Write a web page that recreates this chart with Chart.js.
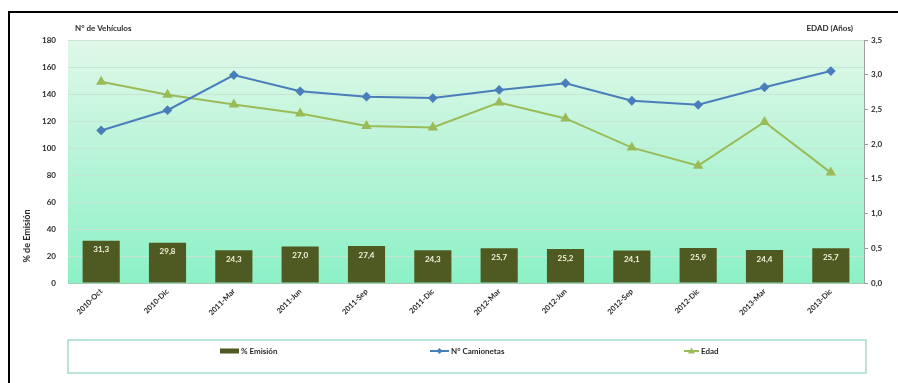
<!DOCTYPE html>
<html>
<head>
<meta charset="utf-8">
<script src="https://cdn.jsdelivr.net/npm/chart.js@4.4.1/dist/chart.umd.min.js"></script>
<style>
  html, body { margin: 0; padding: 0; background: #ffffff; overflow: hidden; }
  #wrap { position: relative; width: 898px; height: 383px; }
  #frame { position: absolute; left: 8px; top: 11px; width: 1000px; height: 600px; border-left: 2px solid #000; border-top: 2px solid #000; }
  canvas { position: absolute; left: 0; top: 0; }
</style>
</head>
<body>
<div id="wrap">
  <div id="frame"></div>
  <canvas id="c" width="898" height="383"></canvas>
</div>
<script>
const categories = ['2010-Oct','2010-Dic','2011-Mar','2011-Jun','2011-Sep','2011-Dic','2012-Mar','2012-Jun','2012-Sep','2012-Dic','2013-Mar','2013-Dic'];
const emision = [31.3, 29.8, 24.3, 27.0, 27.4, 24.3, 25.7, 25.2, 24.1, 25.9, 24.4, 25.7];
const camionetas = [113, 128, 154, 142, 138, 137, 143, 148, 135, 132, 145, 157];
const edad = [2.90, 2.71, 2.57, 2.44, 2.26, 2.24, 2.60, 2.37, 1.95, 1.69, 2.32, 1.59];
const seriesNames = ['% Emisión', 'N° Camionetas', 'Edad'];
const leftTitle = 'N° de Vehículos';
const rightTitle = 'EDAD (Años)';
const leftAxisLabel = '% de Emisión';

const FONT = 'Lato, "Open Sans", sans-serif';
const C_BAR = '#4f5a22';
const C_BLUE = '#4a7ebb';
const C_GREEN = '#9bbb59';
const C_TEXT = '#2a2a2a';
const fmt1 = v => v.toFixed(1).replace('.', ',');

const decor = {
  id: 'decor',
  beforeDraw(chart) {
    const {ctx, chartArea: a} = chart;
    const g = ctx.createLinearGradient(0, a.top, 0, a.bottom);
    g.addColorStop(0, '#e0f8e8');
    g.addColorStop(1, '#8cf1c6');
    ctx.save();
    ctx.fillStyle = g;
    ctx.fillRect(a.left, a.top, a.right - a.left, a.bottom - a.top);
    ctx.restore();
  },
  afterDatasetsDraw(chart) {
    const ctx = chart.ctx;
    const meta = chart.getDatasetMeta(0);
    ctx.save();
    ctx.font = 'bold 8px ' + FONT;
    ctx.fillStyle = '#f4f4dc';
    ctx.textAlign = 'center';
    ctx.textBaseline = 'middle';
    meta.data.forEach((bar, i) => {
      ctx.fillText(fmt1(emision[i]), bar.x, bar.y + 9);
    });
    ctx.restore();
  },
  afterDraw(chart) {
    const ctx = chart.ctx;
    ctx.save();
    ctx.fillStyle = C_TEXT;
    ctx.font = 'bold 8px ' + FONT;
    ctx.textBaseline = 'middle';
    ctx.textAlign = 'left';
    ctx.fillText(leftTitle, 75, 28);
    ctx.textAlign = 'right';
    ctx.fillText(rightTitle, 853, 28);
    ctx.save();
    ctx.translate(27, 236);
    ctx.rotate(-Math.PI / 2);
    ctx.textAlign = 'center';
    ctx.font = 'bold 9px ' + FONT;
    ctx.fillText(leftAxisLabel, 0, 0);
    ctx.restore();

    // legend
    ctx.strokeStyle = '#a6dcc4';
    ctx.lineWidth = 1.5;
    ctx.fillStyle = '#ffffff';
    ctx.fillRect(68, 340, 798, 33);
    ctx.strokeRect(68, 340, 798, 33);
    const ly = 351;
    ctx.fillStyle = C_BAR;
    ctx.fillRect(220, ly - 2.5, 19, 5);
    ctx.fillStyle = C_TEXT;
    ctx.textAlign = 'left';
    ctx.fillText(seriesNames[0], 241, ly);

    ctx.strokeStyle = C_BLUE;
    ctx.lineWidth = 2;
    ctx.beginPath(); ctx.moveTo(430, ly); ctx.lineTo(449, ly); ctx.stroke();
    ctx.fillStyle = C_BLUE;
    ctx.beginPath(); ctx.moveTo(439.5, ly - 3); ctx.lineTo(442.5, ly); ctx.lineTo(439.5, ly + 3); ctx.lineTo(436.5, ly); ctx.closePath(); ctx.fill();
    ctx.fillStyle = C_TEXT;
    ctx.fillText(seriesNames[1], 451, ly);

    ctx.strokeStyle = C_GREEN;
    ctx.beginPath(); ctx.moveTo(684, ly); ctx.lineTo(699, ly); ctx.stroke();
    ctx.fillStyle = C_GREEN;
    ctx.beginPath(); ctx.moveTo(691.5, ly - 3.5); ctx.lineTo(695, ly + 2.5); ctx.lineTo(688, ly + 2.5); ctx.closePath(); ctx.fill();
    ctx.fillStyle = C_TEXT;
    ctx.fillText(seriesNames[2], 701, ly);
    ctx.restore();
  }
};

new Chart(document.getElementById('c'), {
  data: {
    labels: categories,
    datasets: [
      { type: 'bar', label: seriesNames[0], data: emision, backgroundColor: C_BAR, yAxisID: 'y', order: 3,
        categoryPercentage: 1, barPercentage: 0.56 },
      { type: 'line', label: seriesNames[1], data: camionetas, borderColor: C_BLUE, backgroundColor: C_BLUE, borderWidth: 2,
        pointStyle: 'rectRot', pointRadius: 3.5, yAxisID: 'y', order: 1, tension: 0 },
      { type: 'line', label: seriesNames[2], data: edad, borderColor: C_GREEN, backgroundColor: C_GREEN, borderWidth: 2,
        pointStyle: 'triangle', pointRadius: 4, yAxisID: 'y1', order: 2, tension: 0 }
    ]
  },
  options: {
    responsive: false,
    animation: false,
    devicePixelRatio: 1,
    layout: { padding: { top: 40, left: 0, right: 0, bottom: 0 } },
    plugins: { legend: { display: false }, tooltip: { enabled: false } },
    scales: {
      x: {
        afterFit: s => { s.height = 100; },
        grid: { display: false, drawTicks: false },
        border: { display: true, color: '#a8c8b4', width: 1 },
        ticks: { maxRotation: 45, minRotation: 45, padding: 4, color: C_TEXT, font: { family: FONT, size: 7.5, weight: 'bold' } }
      },
      y: {
        position: 'left', min: 0, max: 180,
        afterFit: s => { s.width = 68; },
        grid: { color: 'rgba(200,228,212,0.95)', lineWidth: 1, drawTicks: false },
        border: { display: false },
        ticks: { stepSize: 20, padding: 12, color: C_TEXT, font: { family: FONT, size: 8, weight: 'bold' } }
      },
      y1: {
        position: 'right', min: 0, max: 3.5,
        afterFit: s => { s.width = 34; },
        grid: { drawOnChartArea: false, drawTicks: true, tickLength: 4, color: '#999999' },
        border: { display: true, color: '#a0a0a0', width: 1 },
        ticks: { stepSize: 0.5, padding: 3, color: C_TEXT, font: { family: FONT, size: 8, weight: 'bold' },
          callback: v => fmt1(v) }
      }
    }
  },
  plugins: [decor]
});
</script>
</body>
</html>
